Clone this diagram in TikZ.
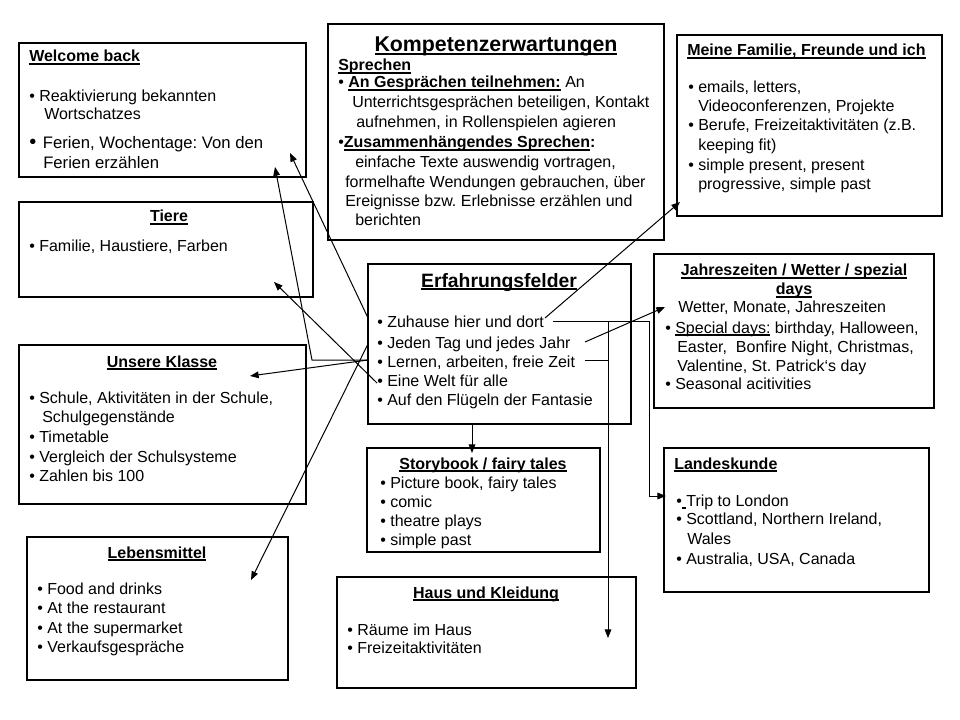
\documentclass[tikz,border=0pt]{standalone}
\usepackage{fontspec}
\setmainfont{Liberation Sans}
\usetikzlibrary{arrows.meta,fit}
\newcommand\ulx[1]{\setbox0\hbox{#1}\rlap{\rule[-1.9pt]{\wd0}{0.8pt}}\box0\relax}
\frenchspacing
\begin{document}
\begin{tikzpicture}[x=0.75pt,y=-0.75pt,
  box/.style={draw,line width=1pt,inner sep=0pt},
  txt/.style={inner sep=0pt,anchor=base west,font=\fontsize{12}{14}\selectfont},
  ttl/.style={inner sep=0pt,anchor=base,font=\bfseries\fontsize{12}{14}\selectfont},
  arr/.style={-{Triangle[length=6.5pt,width=5pt]},line width=0.75pt},
  con/.style={line width=0.75pt}]
\fill[white] (0,0) rectangle (960,720);
\useasboundingbox (0,0) rectangle (960,720);

% ---------- boxes ----------
\node[box,fit={(19,43)(306,177)}] (wb) {};
\node[box,fit={(19,202)(313,297)}] (ti) {};
\node[box,fit={(19,345)(306,504)}] (uk) {};
\node[box,fit={(27,537)(288,680)}] (lm) {};
\node[box,fit={(328,24)(664,240)}] (kz) {};
\node[box,fit={(368,264)(631,424)}] (ef) {};
\node[box,fit={(367,448)(600,552)}] (sb) {};
\node[box,fit={(337,577)(636,688)}] (hk) {};
\node[box,fit={(677,35)(942,216)}] (mf) {};
\node[box,fit={(654,254)(934,408)}] (jz) {};
\node[box,fit={(664,448)(929,592)}] (lk) {};

% ---------- Welcome back ----------
\node[ttl,anchor=base west] (wb0) at (29,62) {\ulx{Welcome back}};
\node[txt] (wb1) at (29,102) {• Reaktivierung bekannten};
\node[txt] (wb2) at (44,120) {Wortschatzes};
\node[txt,font=\fontsize{12.5}{14}\selectfont] (wb3) at (29,149) {{\fontsize{15}{14}\selectfont•}\hspace{5pt}Ferien, Wochentage: Von den};
\node[txt,font=\fontsize{12.5}{14}\selectfont] (wb4) at (43,169) {Ferien erzählen};

% ---------- Tiere ----------
\node[ttl] (ti0) at (169,222) {\ulx{Tiere}};
\node[txt] (ti1) at (29,252) {• Familie, Haustiere, Farben};

% ---------- Unsere Klasse ----------
\node[ttl] (uk0) at (162,367) {\ulx{Unsere Klasse}};
\node[txt] (uk1) at (29,403) {• Schule, Aktivitäten in der Schule,};
\node[txt] (uk2) at (42,422) {Schulgegenstände};
\node[txt] (uk3) at (29,442) {• Timetable};
\node[txt] (uk4) at (29,462) {• Vergleich der Schulsysteme};
\node[txt] (uk5) at (29,481) {• Zahlen bis 100};

% ---------- Lebensmittel ----------
\node[ttl] (lm0) at (157,558) {\ulx{Lebensmittel}};
\node[txt] (lm1) at (37,594) {• Food and drinks};
\node[txt] (lm2) at (37,613) {• At the restaurant};
\node[txt] (lm3) at (37,633) {• At the supermarket};
\node[txt] (lm4) at (37,652) {• Verkaufsgespräche};

% ---------- Kompetenzerwartungen ----------
\node[ttl,font=\bfseries\fontsize{16}{18}\selectfont] (kz0) at (496,52) {\ulx{Kompetenzerwartungen}};
\node[ttl,anchor=base west] (kz1) at (338,71) {\ulx{Sprechen}};
\node[txt] (kz2) at (338,88) {• \textbf{\ulx{An Gesprächen teilnehmen:}} An};
\node[txt] (kz3) at (352,108) {Unterrichtsgesprächen beteiligen, Kontakt};
\node[txt] (kz4) at (356,128) {aufnehmen, in Rollenspielen agieren};
\node[txt] (kz5) at (338,148) {•\textbf{\ulx{Zusammenhängendes Sprechen}:}};
\node[txt] (kz6) at (355,168) {einfache Texte auswendig vortragen,};
\node[txt] (kz7) at (345,188) {formelhafte Wendungen gebrauchen, über};
\node[txt] (kz8) at (345,207) {Ereignisse bzw. Erlebnisse erzählen und};
\node[txt] (kz9) at (355,226) {berichten};

% ---------- Erfahrungsfelder ----------
\node[ttl,font=\bfseries\fontsize{14.5}{16}\selectfont] (ef0) at (499,287) {\ulx{Erfahrungsfelder}};
\node[txt] (e1) at (377,327) {• Zuhause hier und dort};
\node[txt] (e2) at (377,348) {• Jeden Tag und jedes Jahr};
\node[txt] (e3) at (377,367) {• Lernen, arbeiten, freie Zeit};
\node[txt] (e4) at (377,386) {• Eine Welt für alle};
\node[txt] (e5) at (377,405) {• Auf den Flügeln der Fantasie};

% ---------- Storybook ----------
\node[ttl] (sb0) at (483,469) {\ulx{Storybook / fairy tales}};
\node[txt] (sb1) at (380,488) {• Picture book, fairy tales};
\node[txt] (sb2) at (380,507) {• comic};
\node[txt] (sb3) at (380,526) {• theatre plays};
\node[txt] (sb4) at (380,545) {• simple past};

% ---------- Haus und Kleidung ----------
\node[ttl] (hk0) at (486,598) {\ulx{Haus und Kleidung}};
\node[txt] (hk1) at (347,635) {• Räume im Haus};
\node[txt] (hk2) at (347,653) {• Freizeitaktivitäten};

% ---------- Meine Familie ----------
\node[ttl,anchor=base west] (mf0) at (687,56) {\ulx{Meine Familie, Freunde und ich}};
\node[txt] (mf1) at (688,93) {• emails, letters,};
\node[txt] (mf2) at (698,112) {Videoconferenzen, Projekte};
\node[txt] (mf3) at (688,131) {• Berufe, Freizeitaktivitäten (z.B.};
\node[txt] (mf4) at (698,151) {keeping fit)};
\node[txt] (mf5) at (688,171) {• simple present, present};
\node[txt] (mf6) at (698,190) {progressive, simple past};

% ---------- Jahreszeiten ----------
\node[ttl] (jz0) at (794,276) {\ulx{Jahreszeiten / Wetter / spezial}};
\node[ttl] (jz1) at (794,295) {\ulx{days}};
\node[txt] (jz2) at (678,312) {Wetter, Monate, Jahreszeiten};
\node[txt] (jz3) at (665,333) {• \ulx{Special days:} birthday, Halloween,};
\node[txt] (jz4) at (677,352) {Easter,\ \ Bonfire Night, Christmas,};
\node[txt] (jz5) at (677,371) {Valentine, St. Patrick{\char"60}s day};
\node[txt] (jz6) at (665,389) {• Seasonal acitivities};

% ---------- Landeskunde ----------
\node[ttl,anchor=base west] (lk0) at (674,469) {\ulx{Landeskunde}};
\node[txt] (lk1) at (676,506) {•\ulx{\ }Trip to London};
\node[txt] (lk2) at (676,524) {• Scottland, Northern Ireland,};
\node[txt] (lk3) at (687,544) {Wales};
\node[txt] (lk4) at (676,564) {• Australia, USA, Canada};

% ---------- connector points ----------
\coordinate (s1) at (368,318);
\coordinate (s2) at (368,344);
\coordinate (s3) at (368,360);
\coordinate (s4) at (377,383);
\coordinate (k1) at (312,360);
\coordinate (r1) at (545,318);
\coordinate (r1b) at (553,321);
\coordinate (r2) at (585,342);
\coordinate (r3) at (585,360);
\coordinate (j1) at (608,321);
\coordinate (j2) at (608,360);
\coordinate (c1) at (649,321);
\coordinate (c2) at (649,496);
\coordinate (wbA) at (290,153);
\coordinate (wbB) at (275,167);
\coordinate (tiA) at (274,282);
\coordinate (ukA) at (250,376);
\coordinate (lmA) at (251,580);
\coordinate (mfA) at (680,202);
\coordinate (jzA) at (665,307);
\coordinate (lkA) at (666,496);
\coordinate (hkA) at (608,638);
\coordinate (sbA) at (472,453);

% ---------- connectors ----------
\draw[arr] (s1) -- (wbA);
\draw[arr] (s3) -- (k1) -- (wbB);
\draw[arr] (s4) -- (tiA);
\draw[arr] (s3) -- (ukA);
\draw[arr] (s2) -- (lmA);
\draw[arr] (r1) -- (mfA);
\draw[arr] (r2) -- (jzA);
\draw[arr] (r1b) -- (c1) -- (c2) -- (lkA);
\draw[arr] (j1) -- (hkA);
\draw[con] (r3) -- (j2);
\draw[arr] (ef.south -| sbA) -- (sbA);
\end{tikzpicture}
\end{document}
